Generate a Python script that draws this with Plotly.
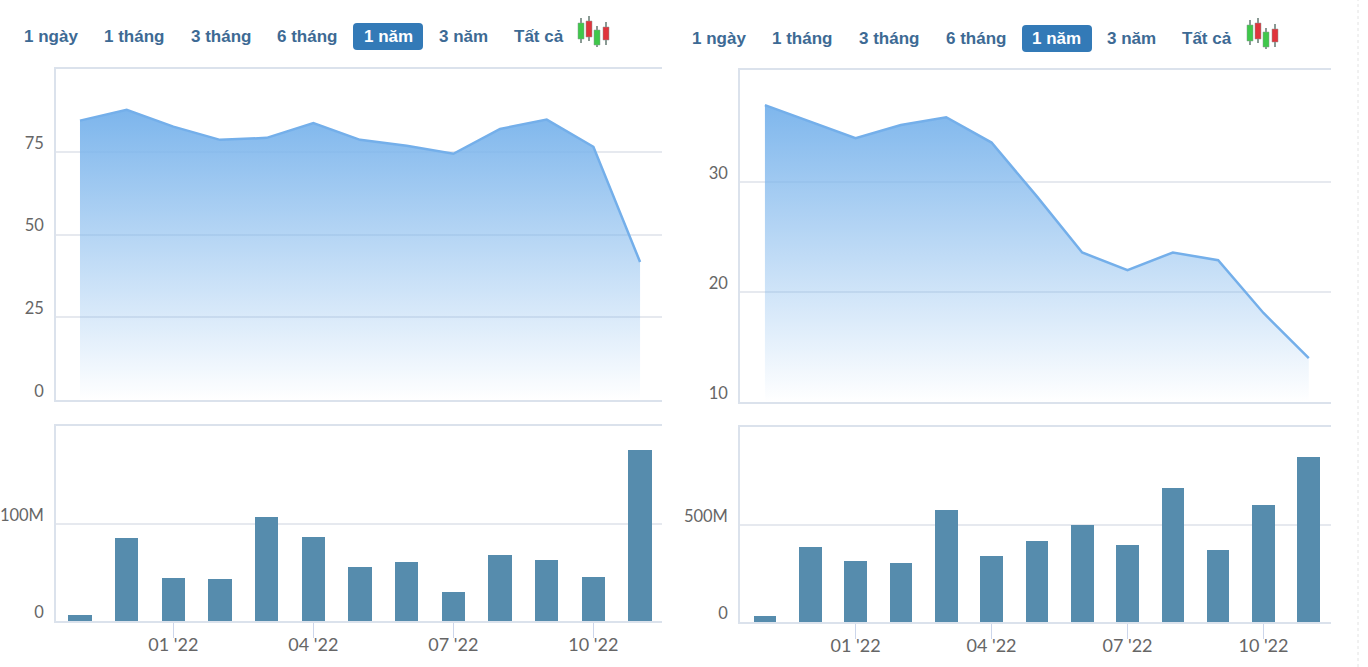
import plotly.graph_objects as go

W, H = 1368, 667

months = ["11 '21", "12 '21", "01 '22", "02 '22", "03 '22", "04 '22", "05 '22",
          "06 '22", "07 '22", "08 '22", "09 '22", "10 '22", "11 '22"]
tick_months = ["01 '22", "04 '22", "07 '22", "10 '22"]
buttons = ["1 ngày", "1 tháng", "3 tháng", "6 tháng", "1 năm", "3 năm", "Tất cả"]

price_left = [84.4, 87.7, 82.6, 78.6, 79.2, 83.7, 78.6, 76.8, 74.4, 81.9, 84.7, 76.5, 41.7]
volume_left = [6, 86, 44, 43, 107, 87, 56, 61, 30, 68, 63, 45, 176]
price_right = [37.0, 35.5, 34.0, 35.2, 35.9, 33.6, 28.7, 23.6, 22.0, 23.6, 22.9, 18.1, 14.0]
volume_right = [31, 387, 314, 304, 577, 340, 418, 500, 397, 691, 371, 603, 851]

LINE = "#74afea"
BAR = "#568cad"
GRID = "#e6e9ef"
AXIS = "#dbe2ec"
TICK = "#ccd6eb"
LABEL = "#666666"
BTN = "#3d6a94"
ACTIVE = "#337ab7"
FONT = "Lato"
BTN_FONT = "Liberation Sans"


def px(x):
    return x / W


def py(y):
    return 1 - y / H


fig = go.Figure()
shapes = []
annotations = []


def panel(n, x0, x1, ptop, pbot, vtop, vbot, xrange_, prange, vrange, price, volume,
          ptick, vtick, vtext, grad_bottom, grad_top, btn_xs, btn_y, box, candle_dx, candle_dy):
    a, b = 2 * n - 1, 2 * n
    xa1, xa2 = f"xaxis{a if a > 1 else ''}", f"xaxis{b}"
    ya1, ya2 = f"yaxis{a if a > 1 else ''}", f"yaxis{b}"
    xr1, xr2 = f"x{a if a > 1 else ''}", f"x{b}"
    yr1, yr2 = f"y{a if a > 1 else ''}", f"y{b}"

    fig.add_trace(go.Scatter(
        x=months, y=price, xaxis=xr1, yaxis=yr1, mode="lines",
        line=dict(color=LINE, width=2.5), fill="tozeroy",
        fillgradient=dict(type="vertical", start=grad_top, stop=grad_bottom,
                          colorscale=[[0, "rgba(124,181,236,1)"], [1, "rgba(124,181,236,0)"]]),
        showlegend=False))
    fig.add_trace(go.Bar(x=months, y=volume, xaxis=xr2, yaxis=yr2, width=0.5,
                         marker=dict(color=BAR, line=dict(width=0)), showlegend=False))

    yfont = dict(family=FONT, size=16.5, color=LABEL)
    xfont = dict(family=FONT, size=18, color=LABEL)
    dom = [px(x0), px(x1)]
    common_y = dict(tickfont=yfont, gridcolor=GRID, gridwidth=1.5, showline=True, linecolor=AXIS,
                    linewidth=1.5, zeroline=False, ticks="", automargin=False,
                    ticklabelshift=-9, ticklabelstandoff=7, tickmode="array")
    fig.update_layout({
        xa1: dict(domain=dom, range=xrange_, type="category", categoryorder="array",
                  categoryarray=months, anchor=yr1, showgrid=False, showticklabels=False,
                  ticks="", showline=True, linecolor=AXIS, linewidth=1.5, mirror=True,
                  zeroline=False, automargin=False),
        xa2: dict(domain=dom, range=xrange_, type="category", categoryorder="array",
                  categoryarray=months, anchor=yr2, showgrid=False, tickmode="array",
                  tickvals=tick_months, ticktext=tick_months, ticks="outside", ticklen=15,
                  tickwidth=1, ticklabelstandoff=-8, tickcolor=TICK, tickfont=xfont, showline=True,
                  linecolor=AXIS, linewidth=1.5, mirror=True, zeroline=False, automargin=False),
        ya1: dict(domain=[py(pbot), py(ptop)], range=prange, anchor=xr1,
                  tickvals=ptick, ticktext=[str(t) for t in ptick], **common_y),
        ya2: dict(domain=[py(vbot), py(vtop)], range=vrange, anchor=xr2,
                  tickvals=vtick, ticktext=vtext, **common_y),
    })

    # range-selector row
    bx0, by0, bx1, by1 = box
    r = 4
    path = (f"M {px(bx0 + r)} {py(by0)} L {px(bx1 - r)} {py(by0)} "
            f"Q {px(bx1)} {py(by0)} {px(bx1)} {py(by0 + r)} L {px(bx1)} {py(by1 - r)} "
            f"Q {px(bx1)} {py(by1)} {px(bx1 - r)} {py(by1)} L {px(bx0 + r)} {py(by1)} "
            f"Q {px(bx0)} {py(by1)} {px(bx0)} {py(by1 - r)} L {px(bx0)} {py(by0 + r)} "
            f"Q {px(bx0)} {py(by0)} {px(bx0 + r)} {py(by0)} Z")
    shapes.append(dict(type="path", xref="paper", yref="paper", path=path,
                       fillcolor=ACTIVE, line=dict(width=0), layer="below"))
    for label, bx in zip(buttons, btn_xs):
        active = label == "1 năm"
        annotations.append(dict(
            x=px(bx), y=py(btn_y), xref="paper", yref="paper", text=f"<b>{label}</b>",
            showarrow=False, xanchor="center", yanchor="middle",
            font=dict(family=BTN_FONT, size=17, color="#ffffff" if active else BTN)))

    # candlestick icon
    candles = [(1250, 20, 45, 25, 41, "#3fc84a"), (1258, 18, 43, 23, 39, "#e0343c"),
               (1266, 28, 49, 32, 47, "#3fc84a"), (1275, 24, 47, 29, 42, "#e0343c")]
    for cx, w0, w1, b0, b1, col in candles:
        cx += candle_dx
        shapes.append(dict(type="line", xref="paper", yref="paper", x0=px(cx), x1=px(cx),
                           y0=py(w0 + candle_dy), y1=py(w1 + candle_dy),
                           line=dict(color="#8a9a94", width=2)))
        shapes.append(dict(type="rect", xref="paper", yref="paper", x0=px(cx - 3), x1=px(cx + 3),
                           y0=py(b0 + candle_dy), y1=py(b1 + candle_dy), fillcolor=col,
                           line=dict(color="#8a9a94", width=0.5)))


panel(1, 56, 662, 69, 400, 426, 621, [-0.514, 12.47], [0, 100], [0, 201], price_left, volume_left,
      [0, 25, 50, 75], [0, 100], ["0", "100M"], 0, 88,
      [51, 134, 221, 307, 388, 463, 539], 37, (353, 23, 423, 50), -669, -2)
panel(2, 740, 1331, 70, 402, 427, 622, [-0.55, 12.49], [10, 40.2], [0, 1005], price_right, volume_right,
      [10, 20, 30], [0, 500], ["0", "500M"], 10, 37.5,
      [719, 802, 889, 976, 1056, 1131, 1207], 38, (1022, 25, 1092, 52), 0, 0)

shapes.append(dict(type="line", xref="paper", yref="paper", x0=px(1358), x1=px(1358), y0=0, y1=1,
                   line=dict(color="#e2e2e2", width=1, dash="dot")))

fig.update_layout(width=W, height=H, autosize=False, margin=dict(l=0, r=0, t=0, b=0),
                  paper_bgcolor="white", plot_bgcolor="white", showlegend=False,
                  shapes=shapes, annotations=annotations, bargap=0)

fig.write_html("out.html", post_script="document.body.style.margin='0';", config=dict(displayModeBar=False))
